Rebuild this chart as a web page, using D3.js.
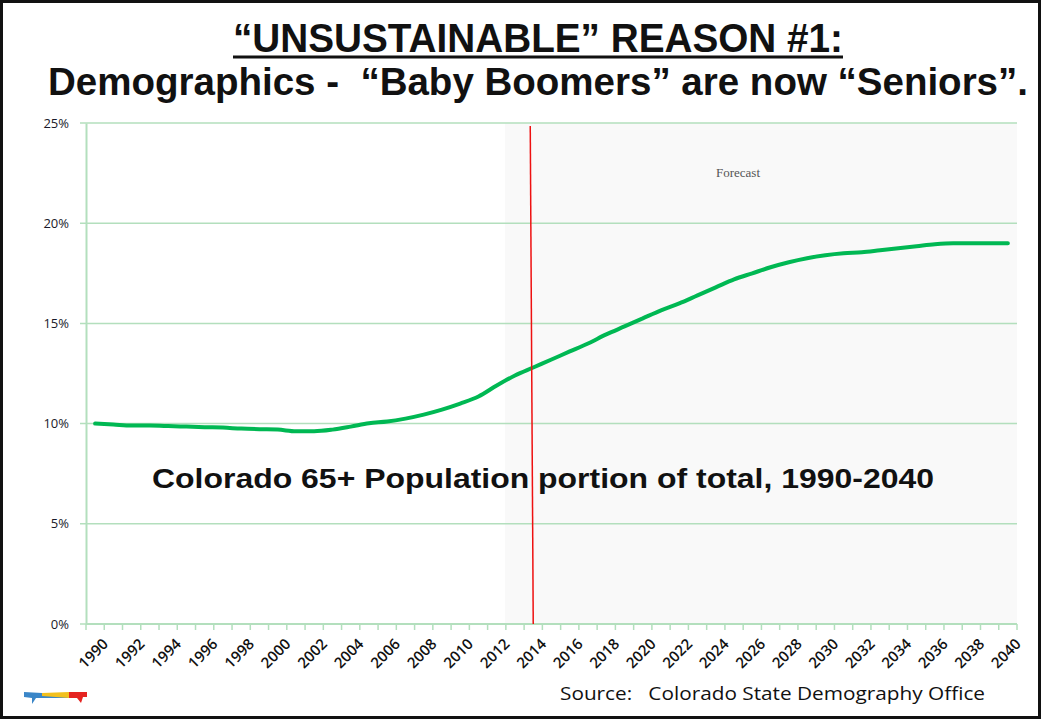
<!DOCTYPE html>
<html>
<head>
<meta charset="utf-8">
<script src="https://cdn.jsdelivr.net/npm/d3@7"></script>
<style>
    body { margin: 0; background: #fff; }
    svg { display: block; }
    text { white-space: pre; }
</style>
</head>
<body>
<svg id="chart"></svg>
<script>
// Colorado 65+ share of total population, 1990-2040
let years = d3.range(1990, 2041);
let share65 = [
    10.0, 9.95, 9.9, 9.9, 9.88, 9.85, 9.82, 9.8, 9.75, 9.72,
    9.7, 9.62, 9.62, 9.7, 9.85, 10.02, 10.1, 10.25, 10.45, 10.7,
    11.0, 11.35, 11.9, 12.4, 12.8, 13.2, 13.6, 14.0, 14.45, 14.85,
    15.25, 15.65, 16.0, 16.4, 16.8, 17.2, 17.5, 17.8, 18.05, 18.25,
    18.4, 18.5, 18.55, 18.65, 18.75, 18.85, 18.95, 19.0, 19.0, 19.0,
    19.0
];
let yTicks = [0, 5, 10, 15, 20, 25];
let xLabelYears = d3.range(1990, 2041, 2);
let forecastStart = 2013;
let markerYear = 2014;

function drawChart() {
    let width = 1041, height = 719;
    let svg = d3.select("#chart").attr("width", width).attr("height", height);

    // frame
    svg.append("rect")
        .attr("x", 1.5).attr("y", 1.5)
        .attr("width", width - 3).attr("height", height - 3)
        .attr("fill", "#fff")
        .attr("stroke", "#111")
        .attr("stroke-width", 3);

    drawTitle(svg);

    let plot = {left: 86, right: 1017, top: 123, bottom: 624};
    let x = d3.scaleBand().domain(years).range([plot.left, plot.right]).paddingInner(0).paddingOuter(0);
    let y = d3.scaleLinear().domain([0, 25]).range([plot.bottom, plot.top]);
    let xc = function (yr) { return x(yr) + x.bandwidth() / 2; };

    // forecast shading
    svg.append("rect")
        .attr("x", x(forecastStart) - 1)
        .attr("y", y(25))
        .attr("width", plot.right - x(forecastStart) + 1)
        .attr("height", y(0) - y(25))
        .attr("fill", "#f9f9f9");

    // gridlines
    let gridColor = "#b3dfbd";
    svg.append("g").selectAll("line").data(yTicks)
        .enter().append("line")
        .attr("x1", plot.left - 6).attr("x2", plot.right)
        .attr("y1", d => y(d)).attr("y2", d => y(d))
        .attr("stroke", gridColor)
        .attr("stroke-width", 1.5);

    // y axis
    let yAxis = d3.axisLeft(y).tickValues(yTicks).tickSize(0).tickPadding(17)
        .tickFormat(d => d + "%");
    let gy = svg.append("g")
        .attr("transform", "translate(" + plot.left + ",0)")
        .call(yAxis);
    gy.select(".domain").attr("stroke", gridColor).attr("stroke-width", 2);
    gy.selectAll("text")
        .attr("font-family", "'Open Sans', sans-serif")
        .attr("font-size", 13)
        .attr("fill", "#1a1a2a");

    // x axis: ticks on category edges
    let edges = years.map(d => x(d)).concat([plot.right]);
    let gx = svg.append("g");
    gx.append("line")
        .attr("x1", plot.left).attr("x2", plot.right)
        .attr("y1", y(0)).attr("y2", y(0))
        .attr("stroke", gridColor).attr("stroke-width", 2);
    gx.selectAll("line.tick").data(edges)
        .enter().append("line")
        .attr("class", "tick")
        .attr("x1", d => d).attr("x2", d => d)
        .attr("y1", y(0)).attr("y2", y(0) + 6)
        .attr("stroke", gridColor).attr("stroke-width", 1.5);
    gx.selectAll("text").data(xLabelYears)
        .enter().append("text")
        .attr("transform", d => "translate(" + (xc(d) + 6) + "," + (y(0) + 13) + ") rotate(-45)")
        .attr("text-anchor", "end")
        .attr("dy", "0.75em")
        .attr("font-family", "'Open Sans', sans-serif")
        .attr("font-size", 15)
        .attr("font-weight", 600)
        .attr("fill", "#111")
        .text(d => d);

    // forecast label
    svg.append("text")
        .attr("x", 738).attr("y", 177)
        .attr("text-anchor", "middle")
        .attr("font-family", "'Liberation Serif', serif")
        .attr("font-size", 13)
        .attr("fill", "#555")
        .text("Forecast");

    // series line
    let line = d3.line()
        .x((d, i) => xc(years[i]))
        .y(d => y(d))
        .curve(d3.curveMonotoneX);
    svg.append("path")
        .datum(share65)
        .attr("d", line)
        .attr("fill", "none")
        .attr("stroke", "#00b853")
        .attr("stroke-width", 4)
        .attr("stroke-linecap", "round");

    // red marker line
    svg.append("line")
        .attr("x1", xc(markerYear) - 3).attr("x2", xc(markerYear))
        .attr("y1", y(25) + 3).attr("y2", y(0))
        .attr("stroke", "#ee1111")
        .attr("stroke-width", 1.5);

    // overlay caption
    svg.append("text")
        .attr("x", 543).attr("y", 488)
        .attr("text-anchor", "middle")
        .attr("font-family", "'Liberation Sans', Arial, sans-serif")
        .attr("font-weight", "bold")
        .attr("font-size", 28)
        .attr("textLength", 782)
        .attr("lengthAdjust", "spacingAndGlyphs")
        .attr("fill", "#111")
        .text("Colorado 65+ Population portion of total, 1990-2040");

    // source
    svg.append("text")
        .attr("x", 560).attr("y", 700)
        .attr("font-family", "'Open Sans', sans-serif")
        .attr("font-size", 19)
        .attr("textLength", 425)
        .attr("lengthAdjust", "spacingAndGlyphs")
        .attr("fill", "#111")
        .text("Source:   Colorado State Demography Office");

    drawLogo(svg);
}

function drawTitle(svg) {
    svg.append("text")
        .attr("x", 233).attr("y", 52)
        .attr("font-family", "'Liberation Sans', Arial, sans-serif")
        .attr("font-weight", "bold")
        .attr("font-size", 40)
        .attr("textLength", 610)
        .attr("lengthAdjust", "spacingAndGlyphs")
        .attr("fill", "#111")
        .text("\u201CUNSUSTAINABLE\u201D REASON #1:");
    svg.append("line")
        .attr("x1", 233).attr("x2", 843)
        .attr("y1", 57).attr("y2", 57)
        .attr("stroke", "#111").attr("stroke-width", 3);
    svg.append("text")
        .attr("x", 538).attr("y", 95)
        .attr("text-anchor", "middle")
        .attr("font-family", "'Liberation Sans', Arial, sans-serif")
        .attr("font-weight", "bold")
        .attr("font-size", 38)
        .attr("textLength", 980)
        .attr("lengthAdjust", "spacingAndGlyphs")
        .attr("fill", "#111")
        .text("Demographics -  \u201CBaby Boomers\u201D are now \u201CSeniors\u201D.");
}

function drawLogo(svg) {
    let g = svg.append("g");
    g.append("path").attr("d", "M24,692 L42,693 L42,698 L36,698 L32,704 L32,698 L24,697 Z").attr("fill", "#3a86c8");
    g.append("path").attr("d", "M42,693 L69,692 L69,698 L42,698 Z").attr("fill", "#f2c01e");
    g.append("path").attr("d", "M42,696 L69,698 L42,698 Z").attr("fill", "#3a86c8");
    g.append("path").attr("d", "M69,692 L87,692 L87,697 L83,697 L81,703 L77,698 L69,698 Z").attr("fill", "#e52421");
}

drawChart();
</script>
</body>
</html>
